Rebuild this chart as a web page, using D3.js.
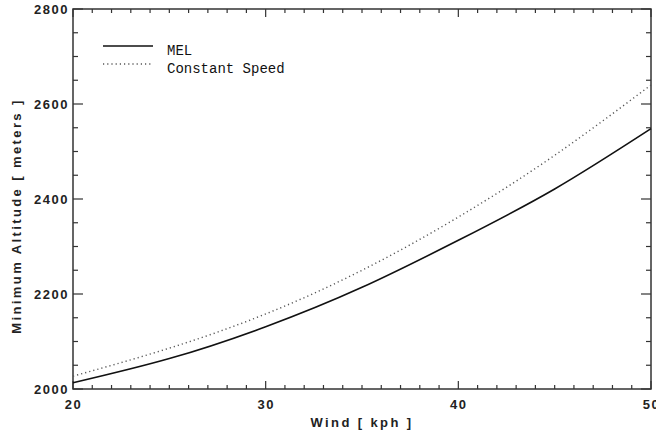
<!DOCTYPE html>
<html>
<head>
<meta charset="utf-8">
<script src="https://cdn.jsdelivr.net/npm/d3@7"></script>
<style>
  body { margin: 0; background: #fff; }
  .tick text { font-family: "Liberation Sans", Arial, sans-serif; font-weight: bold; font-size: 13px; letter-spacing: 1.5px; fill: #222; }
  .lbl { font-family: "Liberation Sans", Arial, sans-serif; font-weight: bold; font-size: 13px; letter-spacing: 2.4px; fill: #222; }
  .leg { font-family: "Liberation Mono", monospace; font-size: 14px; fill: #111; }
</style>
</head>
<body>
<div id="chart"></div>
<script>
// values
var wind = [20, 25, 30, 35, 40, 45, 50];
var mel = [2013, 2064, 2131, 2214, 2313, 2421, 2548];
var constSpeed = [2027, 2086, 2158, 2250, 2362, 2492, 2640];
var xTicks = [20, 30, 40, 50];
var yTicks = [2000, 2200, 2400, 2600, 2800];

var width = 656, height = 437;
var margin = {top: 9, right: 5, bottom: 48, left: 73};

var svg = d3.select("#chart").append("svg")
    .attr("width", width)
    .attr("height", height);

var x = d3.scaleLinear().domain([20, 50]).range([margin.left, width - margin.right]);
var y = d3.scaleLinear().domain([2000, 2800]).range([height - margin.bottom, margin.top]);

var minorX = d3.range(20, 50.001, 1),
    minorY = d3.range(2000, 2800.001, 50);

// frame
svg.append("rect")
    .attr("x", x(20)).attr("y", y(2800))
    .attr("width", x(50) - x(20)).attr("height", y(2000) - y(2800))
    .attr("fill", "none").attr("stroke", "#333").attr("stroke-width", 1.5);

function tickLines(g, data, fn) {
    g.selectAll("line").data(data).enter().append("line")
        .each(fn)
        .attr("stroke", "#333").attr("stroke-width", 1.2);
}

// bottom & top ticks (inward)
tickLines(svg.append("g"), minorX, function(d) {
    var len = xTicks.indexOf(d) >= 0 ? 8 : 4;
    d3.select(this).attr("x1", x(d)).attr("x2", x(d)).attr("y1", y(2000)).attr("y2", y(2000) - len);
});
tickLines(svg.append("g"), minorX, function(d) {
    var len = xTicks.indexOf(d) >= 0 ? 8 : 4;
    d3.select(this).attr("x1", x(d)).attr("x2", x(d)).attr("y1", y(2800)).attr("y2", y(2800) + len);
});
// left & right ticks (inward)
tickLines(svg.append("g"), minorY, function(d) {
    var len = yTicks.indexOf(d) >= 0 ? 10 : 5;
    d3.select(this).attr("y1", y(d)).attr("y2", y(d)).attr("x1", x(20)).attr("x2", x(20) + len);
});
tickLines(svg.append("g"), minorY, function(d) {
    var len = yTicks.indexOf(d) >= 0 ? 10 : 5;
    d3.select(this).attr("y1", y(d)).attr("y2", y(d)).attr("x1", x(50)).attr("x2", x(50) - len);
});

// tick labels via axes, no lines
var xAxis = svg.append("g")
    .attr("transform", "translate(0," + y(2000) + ")")
    .call(d3.axisBottom(x).tickValues(xTicks).tickSize(0).tickPadding(11).tickFormat(d3.format("d")));
xAxis.select(".domain").remove();

var yAxis = svg.append("g")
    .attr("transform", "translate(" + x(20) + ",0)")
    .call(d3.axisLeft(y).tickValues(yTicks).tickSize(0).tickPadding(4).tickFormat(d3.format("d")));
yAxis.select(".domain").remove();

// axis titles
svg.append("text").attr("class", "lbl")
    .attr("x", 362).attr("y", 427)
    .attr("text-anchor", "middle")
    .text("Wind [ kph ]");

svg.append("text").attr("class", "lbl")
    .attr("transform", "translate(21,216) rotate(-90)")
    .attr("text-anchor", "middle")
    .text("Minimum Altitude [ meters ]");

// curves
var line = d3.line()
    .x(function(d) { return x(d[0]); })
    .y(function(d) { return y(d[1]); })
    .curve(d3.curveNatural);

svg.append("path")
    .datum(d3.zip(wind, mel))
    .attr("d", line)
    .attr("fill", "none").attr("stroke", "#111").attr("stroke-width", 1.6);

svg.append("path")
    .datum(d3.zip(wind, constSpeed))
    .attr("d", line)
    .attr("fill", "none").attr("stroke", "#555").attr("stroke-width", 1.4)
    .attr("stroke-dasharray", "1.2,3");

// legend
var legend = svg.append("g");
legend.append("line").attr("x1", 103).attr("x2", 153).attr("y1", 46).attr("y2", 46)
    .attr("stroke", "#111").attr("stroke-width", 1.6);
legend.append("line").attr("x1", 103).attr("x2", 153).attr("y1", 64).attr("y2", 64)
    .attr("stroke", "#555").attr("stroke-width", 1.4).attr("stroke-dasharray", "1.2,3");
legend.append("text").attr("class", "leg").attr("x", 167).attr("y", 55).text("MEL");
legend.append("text").attr("class", "leg").attr("x", 167).attr("y", 73).text("Constant Speed");
</script>
</body>
</html>
